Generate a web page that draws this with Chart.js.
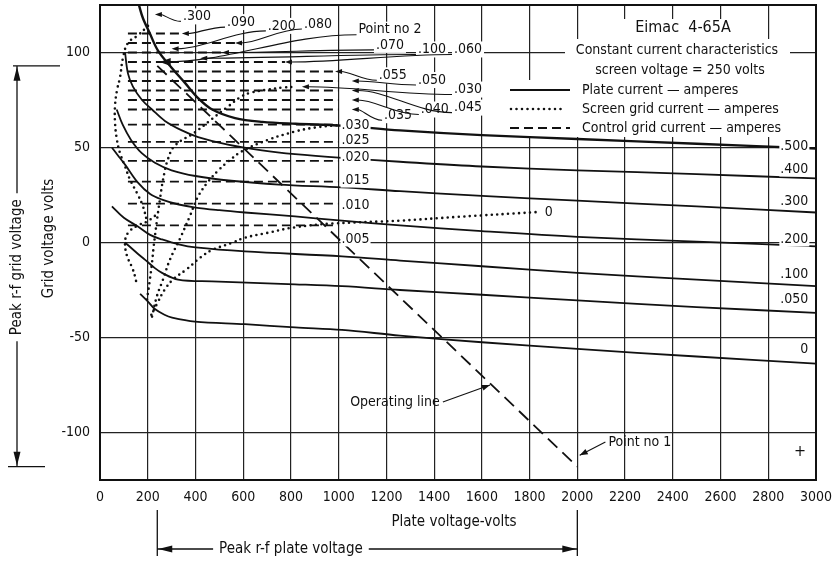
<!DOCTYPE html>
<html>
<head>
<meta charset="utf-8">
<script src="https://cdn.jsdelivr.net/npm/chart.js@4.4.0/dist/chart.umd.min.js"></script>
<style>
  html, body { margin: 0; padding: 0; background: #fff; }
</style>
</head>
<body>
<canvas id="chart" width="840" height="571"></canvas>
<script>
// Eimac 4-65A constant current characteristics

const FONT = '"DejaVu Sans Condensed", "Liberation Sans Narrow", "DejaVu Sans", sans-serif';
const INK = "#111";

// axes
const xMin = 0, xMax = 3000, xStep = 200;
const yMin = -125, yMax = 125;
const yTickValues = [-100, -50, 0, 50, 100];

// plate current curves: [plate volts, grid volts]
const plate500 = [[163,125],[180,118],[209,110],[243,101],[300,92],[356,84],[411,76],[470,70],[566,65.5],[680,63.5],[820,62.5],[1014,61.5],[1257,59],[1600,56.5],[2000,54.5],[2500,52],[3000,49.5]];
const plate400 = [[105,100],[117,89],[138,82],[176,75],[218,70],[272,64],[343,59],[411,55.5],[536,51.5],[679,48.5],[817,46.5],[1014,44.5],[1257,42.5],[1600,40],[2000,38],[2500,36],[3000,33.7]];
const plate300 = [[70,70],[95,62],[130,54],[175,47],[230,42],[300,38],[400,35],[550,32.5],[750,30.5],[1014,29],[1257,27],[1600,24.5],[2000,22],[2500,19],[3000,15.8]];
const plate200 = [[50,50],[80,45],[105,41],[159,31.5],[210,25.5],[260,22.6],[330,20],[400,18.4],[500,17],[607,15.8],[817,13.7],[1014,11.5],[1257,9],[1600,6],[2000,3],[2500,0.5],[3000,-2]];
const plate100 = [[50,19],[100,13],[159,8.4],[210,4],[260,1.6],[330,-1],[400,-2.6],[607,-4.7],[1014,-7.3],[1257,-9.5],[1600,-12.5],[2000,-16],[2500,-19.5],[3000,-23]];
const plate050 = [[105,0],[150,-5],[188,-9],[230,-13.5],[260,-16],[327,-19.5],[469,-20.5],[817,-22],[1014,-23],[1257,-25],[1600,-27.5],[2000,-30.5],[2500,-34],[3000,-37]];
const plate000 = [[168,-27],[200,-31],[230,-35],[270,-38],[302,-39.5],[398,-41.6],[607,-43],[817,-44.7],[1014,-46],[1257,-49],[1600,-52.5],[2000,-56],[2500,-60],[3000,-63.7]];
const plateCurves = [plate500, plate400, plate300, plate200, plate100, plate050, plate000];
const plateLabels = [".500", ".400", ".300", ".200", ".100", ".050", "0"];
const plateLabelY = [50.5, 38.4, 21.6, 1.6, -16.8, -30, -56.3];

// screen grid current curves (dotted)
const screenA = [[201,114],[159,109],[117,105],[96,97],[84,87],[71,80],[63,72],[63,63],[71,54],[84,47],[105,40],[126,33],[155,26],[180,19],[197,11]];
const screenB = [[230,14],[197,11],[159,9],[117,5],[105,0],[113,-7],[134,-13],[147,-18],[155,-23]];
const screenC = [[197,-30],[209,-19.5],[218,-10.5],[225,-2],[239,12],[251,22.6],[264,33],[285,44],[314,51],[398,58],[469,65],[536,71.5],[595,77],[637,79],[704,80.5],[762,81.5],[817,82]];
const screenD = [[218,-39],[239,-28],[264,-19.5],[293,-9],[335,2],[377,14],[410,24],[453,32],[500,38.5],[536,42.5],[595,48],[704,54],[817,58.4],[901,60.5],[1014,62]];
const screenE = [[215,-38],[240,-32],[270,-25],[306,-19.5],[364,-14],[420,-8],[469,-4],[557,0],[607,2.5],[699,5],[817,8],[976,10],[1257,11.5],[1500,13.5],[1830,16]];
const screenCurves = [screenA, screenB, screenC, screenD, screenE];
const screenZeroLabel = ["0", 1864, 15.8];

// control grid current (dashed horizontal lines)
const gridLevels = [9, 20.5, 32, 43, 53, 62, 70, 75, 80, 85, 90, 95, 100, 105, 110];
const gridStart = 117;
const gridEnds = [1000, 1000, 1000, 1000, 1000, 1000, 1000, 1000, 1000, 1000, 985, 775, 511, 566, 343];
const gridColumnLabels = [".030", ".025", ".020", ".015", ".010", ".005"];
const gridColumnLabelY = [61.6, 54, 45, 32.6, 19.5, 1.6];

// operating line
const pointNo2 = [240, 93];
const pointNo1 = [2000, -118];

// leader labels: [text, label x, label y, arrow x, arrow y]
const leaders = [
  [".300", 406, 119, 230, 120],
  [".090", 591, 116, 343, 110],
  [".200", 762, 114, 300, 102],
  [".080", 913, 115, 566, 105],
  ["Point no 2", 1215, 112, 250, 95],
  [".070", 1215, 104, 511, 100],
  [".100", 1391, 101.6, 420, 97],
  [".060", 1542, 101.6, 775, 95],
  [".055", 1227, 88, 985, 90],
  [".050", 1391, 85.5, 1055, 85],
  [".030", 1542, 80.5, 846, 82],
  [".045", 1542, 71, 1055, 80],
  [".040", 1403, 70, 1055, 75],
  [".035", 1249, 67, 1055, 70]
];
// callouts with straight arrows: [text, label x, label y, arrow x, arrow y]
const callouts = [
  ["Operating line", 1236, -84, 1634, -75],
  ["Point no 1", 2262, -105, 2010, -112]
];

const toXY = pts => pts.map(([x, y]) => ({ x, y }));

const datasets = [];
plateCurves.forEach((pts, i) => {
  datasets.push({
    data: toXY(pts), showLine: true, pointRadius: 0, tension: 0.35,
    borderColor: INK, borderWidth: i === 0 ? 2.4 : 1.8
  });
});
screenCurves.forEach(pts => {
  datasets.push({
    data: toXY(pts), showLine: true, pointRadius: 0, tension: 0.4,
    borderColor: INK, borderWidth: 2.6, borderDash: [0, 5.5], borderCapStyle: "round"
  });
});
gridLevels.forEach((lv, i) => {
  datasets.push({
    data: [{ x: gridStart, y: lv }, { x: gridEnds[i], y: lv }], showLine: true, pointRadius: 0,
    borderColor: INK, borderWidth: 1.8, borderDash: [9, 5]
  });
});
datasets.push({
  data: [{ x: pointNo2[0], y: pointNo2[1] }, { x: pointNo1[0], y: pointNo1[1] }],
  showLine: true, pointRadius: 0, borderColor: INK, borderWidth: 1.8, borderDash: [13, 7]
});

function arrowHead(ctx, x, y, angle, len, half) {
  ctx.beginPath();
  ctx.moveTo(x, y);
  ctx.lineTo(x - len * Math.cos(angle) + half * Math.sin(angle), y - len * Math.sin(angle) - half * Math.cos(angle));
  ctx.lineTo(x - len * Math.cos(angle) - half * Math.sin(angle), y - len * Math.sin(angle) + half * Math.cos(angle));
  ctx.closePath();
  ctx.fill();
}

function whiteBox(ctx, cx, cy, text, padX, padY) {
  const w = ctx.measureText(text).width;
  ctx.fillStyle = "#fff";
  ctx.fillRect(cx - w / 2 - padX, cy - 8 - padY, w + padX * 2, 16 + padY * 2);
}

// legend, labels, frame and outer annotations
const decorations = {
  id: "decorations",
  beforeDatasetsDraw(chart) {
    const ctx = chart.ctx;
    ctx.save();
    ctx.fillStyle = "#fff";
    ctx.fillRect(620, 19, 125, 20);
    ctx.fillRect(565, 39, 225, 21);
    ctx.fillRect(575, 60, 212, 20);
    ctx.fillRect(505, 80, 295, 57);
    ctx.font = "14px " + FONT;
    leaders.forEach(([t, x, y]) => {
      whiteBox(ctx, chart.scales.x.getPixelForValue(x), chart.scales.y.getPixelForValue(y), t, 2, 0);
    });
    ctx.restore();
  },
  afterDatasetsDraw(chart) {
    const ctx = chart.ctx;
    const sx = chart.scales.x, sy = chart.scales.y;
    const area = chart.chartArea;
    ctx.save();
    ctx.fillStyle = INK;
    ctx.strokeStyle = INK;
    ctx.textBaseline = "middle";

    // labels at the right end of the plate current curves
    ctx.font = "14px " + FONT;
    ctx.textAlign = "right";
    plateLabels.forEach((t, i) => {
      const x = sx.getPixelForValue(2968), y = sy.getPixelForValue(plateLabelY[i]);
      const w = ctx.measureText(t).width;
      ctx.fillStyle = "#fff";
      ctx.fillRect(x - w - 1, y - 7, w + 2, 14);
      ctx.fillStyle = INK;
      ctx.fillText(t, x, y);
    });

    // labels of the control grid lines at 1000 volts
    ctx.textAlign = "left";
    gridColumnLabels.forEach((t, i) => {
      const x = sx.getPixelForValue(1012), y = sy.getPixelForValue(gridColumnLabelY[i]);
      const w = ctx.measureText(t).width;
      ctx.fillStyle = "#fff";
      ctx.fillRect(x - 1, y - 7, w + 2, 14);
      ctx.fillStyle = INK;
      ctx.fillText(t, x, y);
    });
    ctx.fillText(screenZeroLabel[0], sx.getPixelForValue(screenZeroLabel[1]), sy.getPixelForValue(screenZeroLabel[2]));

    // leader labels with curved arrows
    ctx.lineWidth = 1.1;
    leaders.forEach(([t, x, y, tx, ty]) => {
      const cx = sx.getPixelForValue(x), cy = sy.getPixelForValue(y);
      const ax = sx.getPixelForValue(tx), ay = sy.getPixelForValue(ty);
      const w = ctx.measureText(t).width;
      ctx.textAlign = "center";
      ctx.fillText(t, cx, cy);
      const bx = cx - w / 2 - 2, by = cy + 5;
      const d = bx - ax;
      ctx.beginPath();
      ctx.moveTo(bx, by);
      ctx.bezierCurveTo(bx - d * 0.35, by, ax + d * 0.35, ay, ax + 6, ay);
      ctx.stroke();
      const big = t === "Point no 2";
      arrowHead(ctx, ax, ay, Math.PI, big ? 11 : 7, big ? 4 : 2.5);
    });

    // straight callouts
    callouts.forEach(([t, x, y, tx, ty]) => {
      const cx = sx.getPixelForValue(x), cy = sy.getPixelForValue(y);
      const ax = sx.getPixelForValue(tx), ay = sy.getPixelForValue(ty);
      const w = ctx.measureText(t).width;
      ctx.textAlign = "center";
      ctx.fillText(t, cx, cy);
      const bx = ax > cx ? cx + w / 2 + 3 : cx - w / 2 - 3;
      ctx.beginPath();
      ctx.moveTo(bx, cy);
      ctx.lineTo(ax, ay);
      ctx.stroke();
      arrowHead(ctx, ax, ay, Math.atan2(ay - cy, ax - bx), 8, 3);
    });
    ctx.font = "16px " + FONT;
    ctx.fillText("+", sx.getPixelForValue(2933), sy.getPixelForValue(-110));

    // legend block
    ctx.textAlign = "center";
    ctx.font = "16px " + FONT;
    ctx.fillText("Eimac  4-65A", 683, 28);
    ctx.font = "14px " + FONT;
    ctx.fillText("Constant current characteristics", 677, 50);
    ctx.fillText("screen voltage = 250 volts", 680, 70);
    ctx.textAlign = "left";
    ctx.fillText("Plate current \u2014 amperes", 582, 90);
    ctx.fillText("Screen grid current \u2014 amperes", 582, 109);
    ctx.fillText("Control grid current \u2014 amperes", 582, 128);
    ctx.lineWidth = 1.8;
    ctx.beginPath(); ctx.moveTo(510, 90); ctx.lineTo(570, 90); ctx.stroke();
    ctx.setLineDash([0, 5.5]); ctx.lineCap = "round"; ctx.lineWidth = 2.6;
    ctx.beginPath(); ctx.moveTo(511, 109); ctx.lineTo(565, 109); ctx.stroke();
    ctx.setLineDash([9, 5]); ctx.lineCap = "butt"; ctx.lineWidth = 1.8;
    ctx.beginPath(); ctx.moveTo(510, 128); ctx.lineTo(570, 128); ctx.stroke();
    ctx.setLineDash([]);

    // frame
    ctx.lineWidth = 2;
    ctx.strokeRect(area.left, area.top, area.right - area.left, area.bottom - area.top);
    ctx.restore();
  },
  afterDraw(chart) {
    const ctx = chart.ctx;
    const sx = chart.scales.x, sy = chart.scales.y;
    const area = chart.chartArea;
    ctx.save();
    ctx.fillStyle = INK;
    ctx.strokeStyle = INK;
    ctx.lineWidth = 1.3;
    ctx.font = "15px " + FONT;
    ctx.textBaseline = "middle";
    ctx.textAlign = "center";

    // x axis title
    ctx.fillText("Plate voltage-volts", (area.left + area.right) / 2 - 4, 522);

    // peak r-f plate voltage span
    const x1 = sx.getPixelForValue(pointNo2[0]), x2 = sx.getPixelForValue(pointNo1[0]);
    const yb = 549, tcx = sx.getPixelForValue(800);
    const tw = ctx.measureText("Peak r-f plate voltage").width;
    ctx.fillText("Peak r-f plate voltage", tcx, yb);
    ctx.beginPath();
    ctx.moveTo(x1, 510); ctx.lineTo(x1, 556);
    ctx.moveTo(x2, 510); ctx.lineTo(x2, 556);
    ctx.moveTo(x1, yb); ctx.lineTo(tcx - tw / 2 - 6, yb);
    ctx.moveTo(tcx + tw / 2 + 6, yb); ctx.lineTo(x2, yb);
    ctx.stroke();
    arrowHead(ctx, x1 + 1, yb, Math.PI, 14, 3.5);
    arrowHead(ctx, x2 - 1, yb, 0, 14, 3.5);

    // peak r-f grid voltage span
    const y1 = sy.getPixelForValue(pointNo2[1]), y2 = sy.getPixelForValue(pointNo1[1]);
    const lx = 17, tcy = sy.getPixelForValue(-13);
    const th = ctx.measureText("Peak r-f grid voltage").width;
    ctx.beginPath();
    ctx.moveTo(13, y1); ctx.lineTo(60, y1);
    ctx.moveTo(8, y2); ctx.lineTo(45, y2);
    ctx.moveTo(lx, y1); ctx.lineTo(lx, tcy - th / 2 - 6);
    ctx.moveTo(lx, tcy + th / 2 + 6); ctx.lineTo(lx, y2);
    ctx.stroke();
    arrowHead(ctx, lx, y1 + 1, -Math.PI / 2, 14, 3.5);
    arrowHead(ctx, lx, y2 - 1, Math.PI / 2, 14, 3.5);
    ctx.save();
    ctx.translate(lx, tcy);
    ctx.rotate(-Math.PI / 2);
    ctx.fillText("Peak r-f grid voltage", 0, 0);
    ctx.restore();

    // y axis title
    ctx.save();
    ctx.translate(49, (area.top + area.bottom) / 2 - 4);
    ctx.rotate(-Math.PI / 2);
    ctx.fillText("Grid voltage volts", 0, 0);
    ctx.restore();
    ctx.restore();
  }
};

new Chart(document.getElementById("chart"), {
  type: "scatter",
  data: { datasets: datasets },
  options: {
    responsive: false,
    animation: false,
    events: [],
    layout: { padding: { left: 0, right: 24, top: 5, bottom: 0 } },
    plugins: { legend: { display: false }, tooltip: { enabled: false } },
    scales: {
      x: {
        type: "linear",
        min: xMin,
        max: xMax,
        ticks: {
          stepSize: xStep, autoSkip: false, maxRotation: 0, padding: 9,
          color: INK, font: { family: FONT, size: 14 },
          callback: v => String(v)
        },
        grid: { color: "#222", lineWidth: 1.2, drawTicks: false },
        border: { color: INK, width: 2 },
        afterFit: s => { s.height = 91; s.paddingLeft = 0; s.paddingRight = 0; }
      },
      y: {
        min: yMin,
        max: yMax,
        afterBuildTicks: s => { s.ticks = yTickValues.map(v => ({ value: v })); },
        ticks: { padding: 10, color: INK, font: { family: FONT, size: 14 } },
        grid: { color: "#222", lineWidth: 1.2, drawTicks: false },
        border: { color: INK, width: 2 },
        afterFit: s => { s.width = 100; s.paddingTop = 0; s.paddingBottom = 0; }
      }
    }
  },
  plugins: [decorations]
});
</script>
</body>
</html>
